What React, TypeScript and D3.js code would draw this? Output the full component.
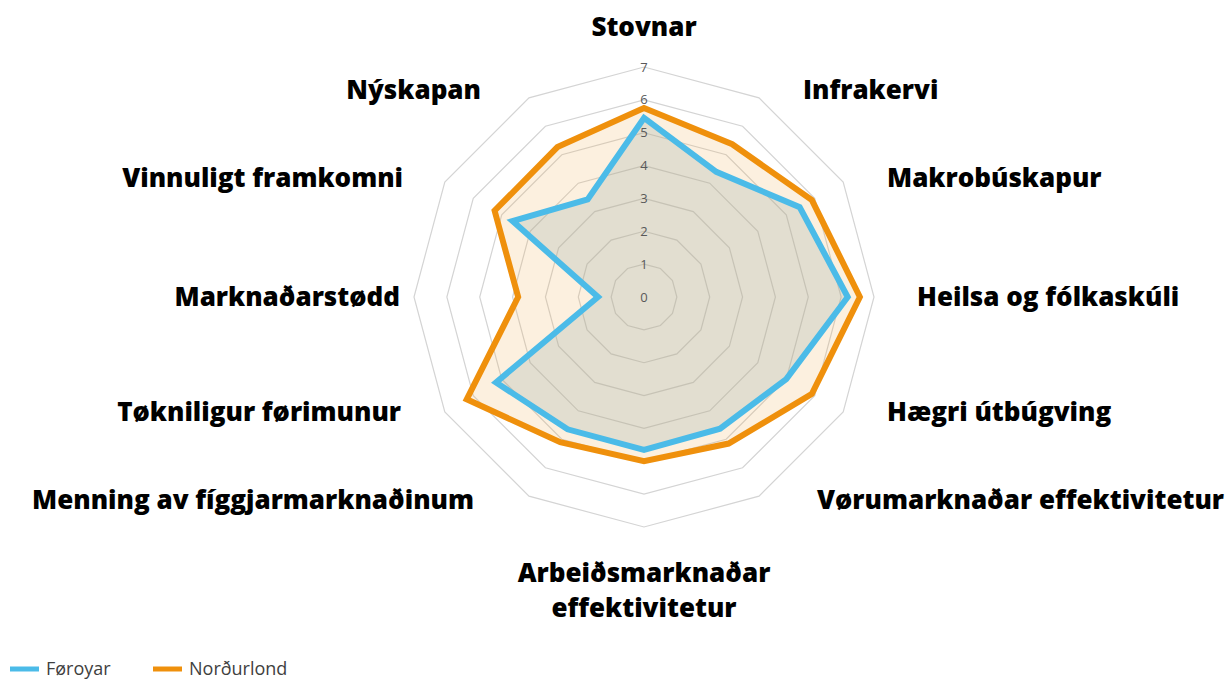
import React from "react";
import * as d3 from "d3";

const categories = [
  "Stovnar",
  "Infrakervi",
  "Makrobúskapur",
  "Heilsa og fólkaskúli",
  "Hægri útbúgving",
  "Vørumarknaðar effektivitetur",
  "Arbeiðsmarknaðar effektivitetur",
  "Menning av fíggjarmarknaðinum",
  "Tøkniligur førimunur",
  "Marknaðarstødd",
  "Vinnuligt framkomni",
  "Nýskapan",
];
const foroyar = [5.45, 4.4, 5.47, 6.2, 5.0, 4.63, 4.65, 4.65, 5.2, 1.4, 4.62, 3.43];
const nordurlond = [5.75, 5.37, 5.9, 6.57, 5.9, 5.15, 5.0, 5.1, 6.23, 3.83, 5.25, 5.27];
const ticks = [0, 1, 2, 3, 4, 5, 6, 7];
const seriesNames = ["Føroyar", "Norðurlond"];

// layout (label anchors relative to centre)
const labelLayout: { dx: number; dy: number; anchor: string; lines?: string[] }[] = [
  { dx: 0, dy: -270, anchor: "middle" },
  { dx: 159, dy: -207, anchor: "start" },
  { dx: 243, dy: -119, anchor: "start" },
  { dx: 273, dy: 0, anchor: "start" },
  { dx: 243, dy: 115, anchor: "start" },
  { dx: 173, dy: 203, anchor: "start" },
  { dx: 0, dy: 276, anchor: "middle", lines: ["Arbeiðsmarknaðar", "effektivitetur"] },
  { dx: -170, dy: 203, anchor: "end" },
  { dx: -243, dy: 115, anchor: "end" },
  { dx: -244, dy: 0, anchor: "end" },
  { dx: -241, dy: -119, anchor: "end" },
  { dx: -163, dy: -207, anchor: "end" },
];

export default function App() {
  const W = 1227;
  const H = 683;
  const cx = 644;
  const cy = 297;
  const R = 230;
  const n = categories.length;
  const r = d3.scaleLinear().domain([0, 7]).range([0, R]);
  const angle = d3.scaleLinear().domain([0, n]).range([0, 2 * Math.PI]);

  const radial = d3
    .lineRadial<number>()
    .angle((_, i) => angle(i))
    .radius((d) => r(d))
    .curve(d3.curveLinearClosed);

  const ring = (v: number) => radial(categories.map(() => v)) as string;

  const blue = "#4bbbe8";
  const orange = "#ef900c";
  const font = "'Open Sans', Lato, sans-serif";
  const lineGap = 35;

  return (
    <svg
      width={W}
      height={H}
      style={{ position: "absolute", left: 0, top: 0, background: "#fff" }}
    >
      <g transform={`translate(${cx},${cy})`}>
        {ticks.slice(1).map((t) => (
          <path key={t} d={ring(t)} fill="none" stroke="#d4d4d4" strokeWidth={1.2} />
        ))}
        <path d={radial(nordurlond) as string} fill="rgba(240,170,80,0.18)" stroke="none" />
        <path d={radial(foroyar) as string} fill="rgba(150,170,165,0.26)" stroke="none" />
        {ticks.map((t) => (
          <text
            key={t}
            x={0}
            y={-r(t)}
            dy="0.35em"
            textAnchor="middle"
            fontFamily={font}
            fontSize={13}
            fill="#595959"
          >
            {t}
          </text>
        ))}
        <path
          d={radial(nordurlond) as string}
          fill="none"
          stroke={orange}
          strokeWidth={6}
          strokeLinejoin="miter"
        />
        <path
          d={radial(foroyar) as string}
          fill="none"
          stroke={blue}
          strokeWidth={6}
          strokeLinejoin="miter"
        />
        {categories.map((c, i) => {
          const L = labelLayout[i];
          const lines = L.lines ?? [c];
          return lines.map((ln, k) => (
            <text
              key={c + k}
              x={L.dx}
              y={L.dy + k * lineGap}
              dy="0.35em"
              textAnchor={L.anchor as any}
              fontFamily={font}
              fontWeight={800}
              fontSize={26}
              fill="#000"
            >
              {ln}
            </text>
          ));
        })}
      </g>
      <g transform="translate(0,669)">
        {seriesNames.map((s, i) => (
          <g key={s} transform={`translate(${i === 0 ? 10 : 153},0)`}>
            <line x1={0} x2={29} y1={0} y2={0} stroke={i === 0 ? blue : orange} strokeWidth={5} />
            <text x={36} y={0} dy="0.35em" fontFamily={font} fontSize={18} fill="#404040">
              {s}
            </text>
          </g>
        ))}
      </g>
    </svg>
  );
}
